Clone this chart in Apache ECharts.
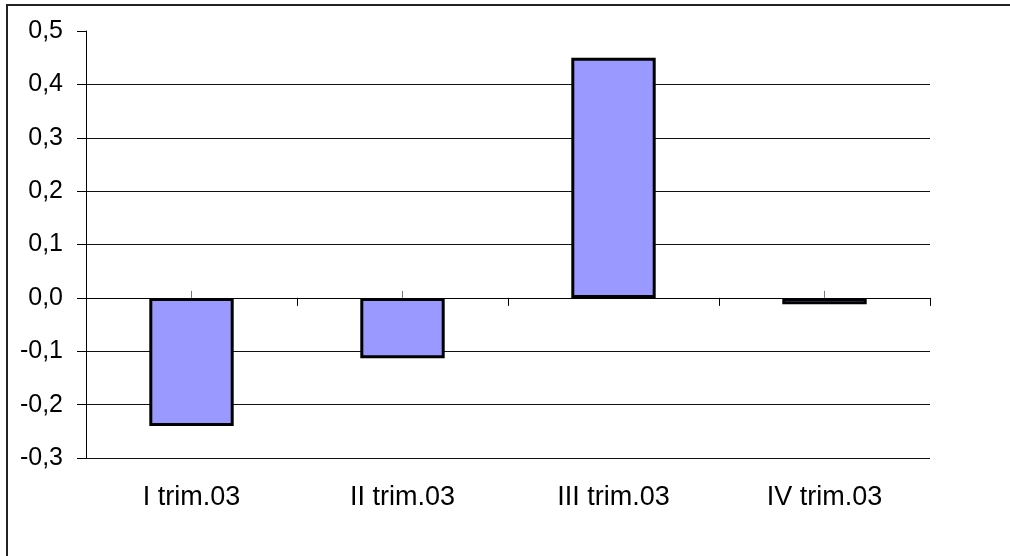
<!DOCTYPE html>
<html>
<head>
<meta charset="utf-8">
<script src="https://cdn.jsdelivr.net/npm/echarts@6/dist/echarts.min.js"></script>
<style>
  html, body { margin: 0; padding: 0; background: #fff; }
  #chart { width: 1010px; height: 556px; }
</style>
</head>
<body>
<div id="chart"></div>
<script>
// Quarterly change, 2003
const categories = ['I trim.03', 'II trim.03', 'III trim.03', 'IV trim.03'];
const values = [-0.24, -0.113, 0.45, -0.012];
const yMin = -0.3;
const yMax = 0.5;
const yStep = 0.1;

const FONT = '"Liberation Sans", Arial, sans-serif';

// one colour per split line from min to max; the top edge stays without a line
const tickCount = Math.round((yMax - yMin) / yStep) + 1;
const splitColors = [];
for (let i = 0; i < tickCount; i++) splitColors.push(i === tickCount - 1 ? 'rgba(0,0,0,0)' : '#111');

const chart = echarts.init(document.getElementById('chart'), null, { renderer: 'canvas' });

chart.setOption({
  backgroundColor: '#fff',
  animation: false,
  grid: { left: 86, right: 80, top: 31, bottom: 98, containLabel: false },
  graphic: [{
    type: 'rect',
    shape: { x: 7, y: 5, width: 1020, height: 570 },
    style: { fill: 'none', stroke: '#222', lineWidth: 2 },
    silent: true,
    z: 100
  }],
  xAxis: [
    {
      // axis line through zero with ticks between categories
      type: 'category',
      data: categories,
      position: 'bottom',
      axisLine: { show: true, onZero: true, onZeroAxisIndex: 0, lineStyle: { color: '#000', width: 1 } },
      axisTick: { show: true, inside: false, length: 8, lineStyle: { color: '#000', width: 1 } },
      axisLabel: { show: false },
      splitLine: { show: false }
    },
    {
      // category names along the bottom
      type: 'category',
      data: categories,
      position: 'bottom',
      axisLine: { show: false, onZero: false },
      axisTick: { show: false },
      axisLabel: {
        show: true, margin: 26, color: '#000',
        fontFamily: FONT, fontSize: 27, interval: 0
      },
      splitLine: { show: false }
    },
    {
      // small marks at each category centre, above the zero line
      type: 'category',
      data: categories,
      position: 'bottom',
      axisLine: { show: true, onZero: true, onZeroAxisIndex: 1, lineStyle: { color: 'rgba(0,0,0,0)' } },
      axisTick: { show: true, alignWithLabel: true, inside: true, length: 7,
                  lineStyle: { color: '#777', width: 1 } },
      axisLabel: { show: false },
      splitLine: { show: false }
    }
  ],
  yAxis: [
    {
      type: 'value',
      min: yMin,
      max: yMax,
      interval: yStep,
      axisLine: { show: true, lineStyle: { color: '#000', width: 1 } },
      axisTick: { show: true, inside: false, length: 9, lineStyle: { color: '#000', width: 1 } },
      axisLabel: {
        color: '#000', fontFamily: FONT, fontSize: 25, margin: 23,
        formatter: v => v.toFixed(1).replace('.', ',')
      },
      splitLine: { show: true, lineStyle: { color: splitColors, width: 1 } }
    },
    {
      // same scale, only used to place the centre marks on zero
      type: 'value',
      min: yMin,
      max: yMax,
      interval: yStep,
      show: false,
      position: 'left',
      splitLine: { show: false }
    }
  ],
  series: [{
    type: 'bar',
    xAxisIndex: 0,
    yAxisIndex: 0,
    data: values,
    barWidth: '40%',
    itemStyle: { color: '#9999FF', borderColor: '#000', borderWidth: 3 },
    z: 3
  }]
});
</script>
</body>
</html>
